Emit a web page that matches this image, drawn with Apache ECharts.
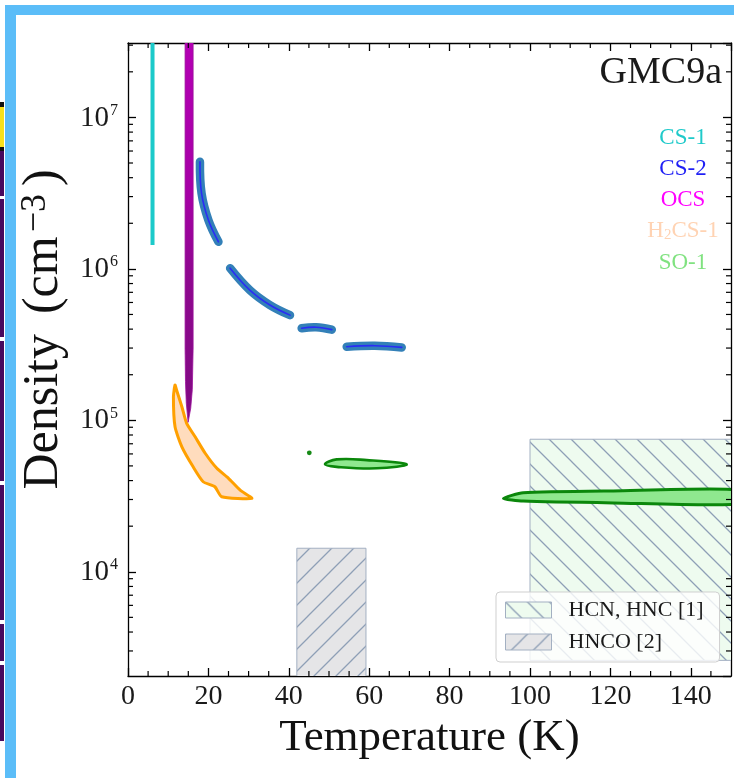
<!DOCTYPE html>
<html>
<head>
<meta charset="utf-8">
<script src="https://cdn.jsdelivr.net/npm/echarts@6/dist/echarts.min.js"></script>
<style>
  html, body { margin: 0; padding: 0; background: #ffffff; }
  #chart { width: 734px; height: 778px; }
</style>
</head>
<body>
<div id="chart"></div>
<script>
// ---- axes ----
const tempRange = [0, 150];            // K
const densRange = [2050, 3.1e7];       // cm^-3 (log axis)
const xTickLabels = [0, 20, 40, 60, 80, 100, 120, 140];
const xMinorTicks = [5, 10, 15, 25, 30, 35, 45, 50, 55, 65, 70, 75, 85, 90, 95,
                     105, 110, 115, 125, 130, 135, 145];
const yMajorTicks = [1e4, 1e5, 1e6, 1e7];
const yTickExponents = ['4', '5', '6', '7'];
const yMinorTicks = [3e3, 4e3, 5e3, 6e3, 7e3, 8e3, 9e3,
                     2e4, 3e4, 4e4, 5e4, 6e4, 7e4, 8e4, 9e4,
                     2e5, 3e5, 4e5, 5e5, 6e5, 7e5, 8e5, 9e5,
                     2e6, 3e6, 4e6, 5e6, 6e6, 7e6, 8e6, 9e6,
                     2e7, 3e7];

// ---- contours, [T (K), n (cm^-3)] ----
const cs1Line = [[6.1, 1e8], [6.1, 1.44e6]];

const cs2Segments = [
  [[17.9, 5.09e6], [18.3, 3.15e6], [20.0, 2.10e6], [22.5, 1.51e6]],
  [[25.4, 1.01e6], [30.3, 7.24e5], [35.3, 5.77e5], [40.3, 4.95e5]],
  [[43.2, 4.05e5], [46.8, 4.12e5], [50.7, 3.97e5]],
  [[54.4, 3.06e5], [61.4, 3.11e5], [68.1, 3.03e5]]
];

const ocsShape = [[14.2, 1e8], [16.2, 1e8], [16.2, 3e5], [16.0, 1.6e5], [15.6, 1.2e5],
                  [14.95, 9.7e4], [14.5, 1.3e5], [14.3, 1.8e5], [14.2, 3e5]];

const h2csShape = [[11.7, 1.71e5], [11.3, 1.43e5], [11.7, 9.06e4], [13.4, 6.68e4],
                   [16.2, 4.93e4], [18.7, 3.93e4], [21.6, 3.64e4], [23.3, 3.13e4],
                   [30.8, 3.05e4], [27.9, 3.46e4], [25.0, 4.14e4], [22.1, 4.82e4],
                   [19.2, 6.06e4], [16.7, 7.78e4], [14.6, 9.55e4], [13.4, 1.23e5],
                   [12.1, 1.58e5]];

const so1Dot = [45.1, 6.1e4];
const so1ShapeMid = [[49.0, 5.12e4], [51.9, 5.52e4], [59.4, 5.46e4], [69.3, 5.12e4],
                     [61.9, 4.82e4], [51.9, 4.93e4]];
const so1ShapeWarm = [[93.4, 3.05e4], [98.3, 3.32e4], [120.7, 3.42e4], [152, 3.47e4],
                      [152, 2.80e4], [120.7, 2.85e4], [98.3, 2.93e4]];

// ---- literature ranges: [Tmin, Tmax, nmin, nmax] ----
const hcnRange = [100, 160, 2600, 7.5e4];
const hncoRange = [42, 59.2, 1000, 1.43e4];

// ---- labels ----
const speciesNames = ['CS-1', 'CS-2', 'OCS', 'H2CS-1', 'SO-1'];
const sourceName = 'GMC9a';
const refNames = ['HCN, HNC [1]', 'HNCO [2]'];

const FONT = '"Liberation Serif", "DejaVu Serif", serif';

function hatch(bg, line, dir, size) {
  const c = document.createElement('canvas');
  c.width = size; c.height = size;
  const g = c.getContext('2d');
  g.fillStyle = bg; g.fillRect(0, 0, size, size);
  g.strokeStyle = line; g.lineWidth = 1.3;
  g.beginPath();
  if (dir === '/') {
    g.moveTo(-2, size + 2); g.lineTo(size + 2, -2);
    g.moveTo(-2, 2); g.lineTo(2, -2);
    g.moveTo(size - 2, size + 2); g.lineTo(size + 2, size - 2);
  } else {
    g.moveTo(-2, -2); g.lineTo(size + 2, size + 2);
    g.moveTo(size - 2, -2); g.lineTo(size + 2, 2);
    g.moveTo(-2, size - 2); g.lineTo(2, size + 2);
  }
  g.stroke();
  return { image: c, repeat: 'repeat' };
}

const hcnFill = hatch('#eefbef', '#8e9fb6', '\\', 22);
const hncoFill = hatch('#e5e5e7', '#8e9fb6', '/', 22);

function polygonSeries(points, style, z, smooth) {
  return {
    type: 'custom', coordinateSystem: 'cartesian2d', clip: true, silent: true, z: z,
    data: [0],
    renderItem: (params, api) => ({
      type: 'polygon',
      shape: { points: points.map(p => api.coord(p)), smooth: smooth || 0 },
      style: typeof style === 'function' ? style(api) : style
    })
  };
}

function polylineSeries(points, style, z) {
  return {
    type: 'custom', coordinateSystem: 'cartesian2d', clip: true, silent: true, z: z,
    data: [0],
    renderItem: (params, api) => ({
      type: 'polyline',
      shape: { points: points.map(p => api.coord(p)), smooth: 0.4 },
      style: Object.assign({ fill: null, lineCap: 'round', lineJoin: 'round' }, style)
    })
  };
}

function rangeSeries(name, r, fill) {
  return {
    name: name, type: 'custom', coordinateSystem: 'cartesian2d', clip: true, silent: true, z: 1,
    itemStyle: { color: fill, borderColor: '#a3b0c2', borderWidth: 1 },
    data: [0],
    renderItem: (params, api) => {
      const a = api.coord([r[0], r[3]]);
      const b = api.coord([r[1], r[2]]);
      return {
        type: 'rect',
        shape: { x: a[0], y: a[1], width: b[0] - a[0], height: b[1] - a[1] },
        style: { fill: fill, stroke: '#a3b0c2', lineWidth: 1 }
      };
    }
  };
}

const tickStyle = { stroke: '#000', lineWidth: 1.2 };

// OCS: bright magenta above, deeper purple towards the tip
function ocsStyle(api) {
  const top = api.coord([tempRange[0], densRange[1]])[1];
  const tip = api.coord(ocsShape[5])[1];
  return {
    fill: new echarts.graphic.LinearGradient(0, top, 0, tip, [
      { offset: 0, color: '#b400b4' }, { offset: 0.4, color: '#a600a6' },
      { offset: 0.6, color: '#8f0890' }, { offset: 1, color: '#800a82' }
    ], true),
    stroke: '#9a109a', lineWidth: 0.8
  };
}

const series = [
  rangeSeries(refNames[0], hcnRange, hcnFill),
  rangeSeries(refNames[1], hncoRange, hncoFill),

  // H2CS-1
  polygonSeries(h2csShape, { fill: '#ffdcbd', stroke: '#ffa000', lineWidth: 3, lineJoin: 'round' }, 3, 0.2),

  // OCS
  polygonSeries(ocsShape, ocsStyle, 4, 0),

  // CS-1
  polylineSeries(cs1Line, { stroke: '#1ccaca', lineWidth: 4, lineCap: 'butt' }, 4),

  // SO-1
  polygonSeries(so1ShapeMid, { fill: '#8fe88f', stroke: '#0b870b', lineWidth: 2.6, lineJoin: 'round' }, 3, 0.4),
  polygonSeries(so1ShapeWarm, { fill: '#8fe88f', stroke: '#0b870b', lineWidth: 3, lineJoin: 'round' }, 3, 0.2),
  {
    type: 'custom', coordinateSystem: 'cartesian2d', clip: true, silent: true, z: 3,
    data: [so1Dot],
    renderItem: (params, api) => {
      const p = api.coord([api.value(0), api.value(1)]);
      return { type: 'circle', shape: { cx: p[0], cy: p[1], r: 2.4 }, style: { fill: '#168a16' } };
    }
  }
];

// CS-2: wide outline with a thin core
cs2Segments.forEach(seg => {
  series.push(polylineSeries(seg, { stroke: '#3380b8', lineWidth: 8.5 }, 5));
  series.push(polylineSeries(seg, { stroke: '#2a2cf5', lineWidth: 1.6 }, 6));
});

// minor ticks on all four sides
series.push({
  type: 'custom', coordinateSystem: 'cartesian2d', clip: false, silent: true, z: 10,
  data: xMinorTicks.map(v => [v, 1e4]),
  encode: { x: 0, y: 1 },
  renderItem: (params, api) => {
    const v = api.value(0);
    const b = api.coord([v, densRange[0]]);
    const t = api.coord([v, densRange[1]]);
    return { type: 'group', children: [
      { type: 'line', shape: { x1: b[0], y1: b[1], x2: b[0], y2: b[1] - 5 }, style: tickStyle },
      { type: 'line', shape: { x1: t[0], y1: t[1], x2: t[0], y2: t[1] + 5 }, style: tickStyle }
    ] };
  }
});
series.push({
  type: 'custom', coordinateSystem: 'cartesian2d', clip: false, silent: true, z: 10,
  data: yMinorTicks.map(v => [50, v]),
  encode: { x: 0, y: 1 },
  renderItem: (params, api) => {
    const v = api.value(1);
    const l = api.coord([tempRange[0], v]);
    const r = api.coord([tempRange[1], v]);
    return { type: 'group', children: [
      { type: 'line', shape: { x1: l[0], y1: l[1], x2: l[0] + 5, y2: l[1] }, style: tickStyle },
      { type: 'line', shape: { x1: r[0], y1: r[1], x2: r[0] - 5, y2: r[1] }, style: tickStyle }
    ] };
  }
});

const axisLine = { show: true, onZero: false, lineStyle: { color: '#000', width: 1.3 } };
const majorTick = { show: true, inside: true, length: 8, lineStyle: { color: '#000', width: 1.3 } };

function yLabel(v) {
  const e = Math.round(Math.log10(v));
  if (Math.abs(Math.log10(v) - e) > 1e-6) return '';
  const i = yMajorTicks.indexOf(Math.pow(10, e));
  return i < 0 ? '' : '{b|10}{s|' + yTickExponents[i] + '}';
}

function keyText(x, y, text, color) {
  return { type: 'text', x: x, y: y, z: 50,
    style: { text: text, fill: color, font: '23px ' + FONT,
             align: 'center', verticalAlign: 'middle', textAlign: 'center', textVerticalAlign: 'middle' } };
}

const option = {
  animation: false,
  backgroundColor: '#ffffff',
  grid: { left: 128, right: 3, top: 43, bottom: 102, containLabel: false },
  xAxis: [
    {
      type: 'value', min: tempRange[0], max: tempRange[1], interval: 20, position: 'bottom',
      axisLine: axisLine, axisTick: majorTick, splitLine: { show: false },
      axisLabel: {
        margin: 7, fontSize: 28, fontFamily: FONT, color: '#1a1a1a', showMaxLabel: false,
        formatter: v => (xTickLabels.indexOf(v) >= 0 ? String(v) : '')
      },
      name: 'Temperature (K)', nameLocation: 'middle', nameGap: 39,
      nameTextStyle: { fontSize: 45, fontFamily: FONT, color: '#111' }
    },
    {
      type: 'value', min: tempRange[0], max: tempRange[1], interval: 20, position: 'top',
      axisLine: axisLine, axisTick: majorTick, splitLine: { show: false }, axisLabel: { show: false }
    }
  ],
  yAxis: [
    {
      type: 'log', logBase: 10, min: densRange[0], max: densRange[1], position: 'left',
      axisLine: axisLine, axisTick: majorTick, splitLine: { show: false }, minorTick: { show: false },
      axisLabel: {
        margin: 10, formatter: yLabel, showMinLabel: false, showMaxLabel: false,
        rich: {
          b: { fontSize: 29, fontFamily: FONT, color: '#1a1a1a', lineHeight: 30, verticalAlign: 'bottom' },
          s: { fontSize: 16, fontFamily: FONT, color: '#1a1a1a', lineHeight: 16, verticalAlign: 'top', padding: [0, 0, 0, 1] }
        }
      },
      name: '{a|Density}{p|(cm}{s|−3}{a|)}', nameLocation: 'middle', nameRotate: 90, nameGap: 54,
      nameTextStyle: {
        padding: [0, 0, 0, 60],
        rich: {
          a: { fontSize: 50, fontFamily: FONT, color: '#111', lineHeight: 52, verticalAlign: 'bottom' },
          p: { fontSize: 50, fontFamily: FONT, color: '#111', lineHeight: 52, verticalAlign: 'bottom', padding: [0, 0, 0, 20] },
          s: { fontSize: 36, fontFamily: FONT, color: '#111', lineHeight: 34, verticalAlign: 'top', padding: [0, 8, 0, 4] }
        }
      }
    },
    {
      type: 'log', logBase: 10, min: densRange[0], max: densRange[1], position: 'right',
      axisLine: axisLine, axisTick: majorTick, splitLine: { show: false }, axisLabel: { show: false }
    }
  ],
  legend: {
    orient: 'vertical', left: 496, top: 592,
    padding: [7, 16, 9, 9], itemGap: 10, itemWidth: 46, itemHeight: 16,
    backgroundColor: 'rgba(255,255,255,0.8)', borderColor: '#cfcfcf', borderWidth: 1, borderRadius: 4,
    textStyle: { fontSize: 22, fontFamily: FONT, color: '#1a1a1a', padding: [0, 0, 0, 12], lineHeight: 22 },
    data: [
      { name: refNames[0], icon: 'rect', itemStyle: { color: hcnFill, borderColor: '#a3b0c2', borderWidth: 1 } },
      { name: refNames[1], icon: 'rect', itemStyle: { color: hncoFill, borderColor: '#a3b0c2', borderWidth: 1 } }
    ]
  },
  graphic: [
    // frame border
    { type: 'rect', shape: { x: 5, y: 5, width: 729, height: 10 }, style: { fill: '#5bbdf8' }, z: 100 },
    { type: 'rect', shape: { x: 5, y: 5, width: 11, height: 773 }, style: { fill: '#5bbdf8' }, z: 100 },
    // neighbouring panel edge
    { type: 'rect', shape: { x: 0, y: 102, width: 4, height: 49 }, style: { fill: '#111' }, z: 100 },
    { type: 'rect', shape: { x: 0, y: 107, width: 4, height: 40 }, style: { fill: '#f7e01c' }, z: 101 },
    { type: 'rect', shape: { x: 0, y: 151, width: 4, height: 45 }, style: { fill: '#47095d' }, z: 100 },
    { type: 'rect', shape: { x: 0, y: 199, width: 4, height: 138 }, style: { fill: '#47095d' }, z: 100 },
    { type: 'rect', shape: { x: 0, y: 341, width: 4, height: 140 }, style: { fill: '#47095d' }, z: 100 },
    { type: 'rect', shape: { x: 0, y: 485, width: 4, height: 135 }, style: { fill: '#47095d' }, z: 100 },
    { type: 'rect', shape: { x: 0, y: 624, width: 4, height: 37 }, style: { fill: '#47095d' }, z: 100 },
    { type: 'rect', shape: { x: 0, y: 665, width: 4, height: 76 }, style: { fill: '#47095d' }, z: 100 },
    // source name
    { type: 'text', x: 722, y: 73, z: 50,
      style: { text: sourceName, fill: '#1a1a1a', font: '38px ' + FONT, align: 'right', verticalAlign: 'middle',
               textAlign: 'right', textVerticalAlign: 'middle' } },
    // species key
    keyText(683, 138, speciesNames[0], '#1fcaca'),
    keyText(683, 169, speciesNames[1], '#1f1ff5'),
    keyText(683, 200, speciesNames[2], '#ff00ff'),
    { type: 'text', x: 683, y: 232, z: 50,
      style: { text: '{a|H}{b|2}{a|CS-1}', fill: '#ffd3b3',
               align: 'center', verticalAlign: 'middle', textAlign: 'center', textVerticalAlign: 'middle',
               rich: {
                 a: { fontSize: 23, fontFamily: FONT, fill: '#ffd3b3', color: '#ffd3b3', lineHeight: 26, verticalAlign: 'top' },
                 b: { fontSize: 15, fontFamily: FONT, fill: '#ffd3b3', color: '#ffd3b3', lineHeight: 26, verticalAlign: 'top', padding: [9, 0, 0, 0] }
               } } },
    keyText(683, 263, speciesNames[4], '#80e280')
  ],
  series: series
};

const chart = echarts.init(document.getElementById('chart'), null, { renderer: 'canvas' });
chart.setOption(option);
</script>
</body>
</html>
